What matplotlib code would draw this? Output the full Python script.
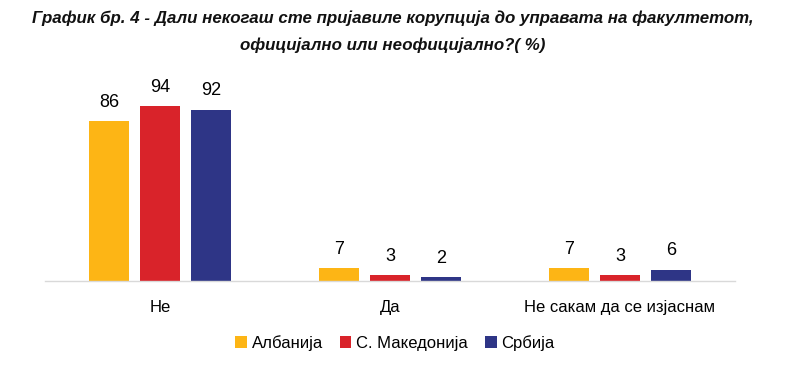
import matplotlib
matplotlib.use("Agg")
import matplotlib.pyplot as plt
import numpy as np
from matplotlib.patches import Patch

categories = ["Не", "Да", "Не сакам да се изјаснам"]
series_names = ["Албанија", "С. Македонија", "Србија"]
albania = [86, 7, 7]
macedonia = [94, 3, 3]
serbia = [92, 2, 6]
colors = ["#FDB515", "#D9232A", "#2E3586"]

plt.rcParams['font.family'] = ['Liberation Sans', 'DejaVu Sans']

W, H = 807, 367
fig = plt.figure(figsize=(W/100, H/100), dpi=100)
ax = fig.add_axes([45/W, 1-281/H, 690/W, 186/H])

x = np.arange(len(categories))
width = 0.174
offsets = [-0.222, 0, 0.222]
for vals, off, col, name in zip([albania, macedonia, serbia], offsets, colors, series_names):
    bars = ax.bar(x + off, vals, width, color=col, label=name)
    for b, v in zip(bars, vals):
        ax.annotate(str(v), (b.get_x() + b.get_width()/2, v), xytext=(0, 7.5),
                    textcoords="offset points", ha="center", va="bottom", fontsize=13)

ax.set_xlim(-0.5, 2.5)
ax.set_ylim(0, 100)
for s in ["top", "right", "left"]:
    ax.spines[s].set_visible(False)
ax.spines["bottom"].set_color("#D9D9D9")
ax.spines["bottom"].set_linewidth(1)
ax.set_yticks([])
ax.set_xticks(x)
ax.set_xticklabels(categories, fontsize=12)
ax.tick_params(axis="x", length=0, pad=14)

handles = [Patch(facecolor=c, label=n) for c, n in zip(colors, series_names)]
fig.legend(handles=handles, loc="center", bbox_to_anchor=(395/W, 1-343/H), ncol=3,
           frameon=False, fontsize=12, handlelength=0.7, handleheight=0.7,
           handletextpad=0.3, columnspacing=1.0)

fig.text(393/W, 1-18/H, "График бр. 4 - Дали некогаш сте пријавиле корупција до управата на факултетот,",
         ha="center", va="center", fontsize=12.2, fontweight="bold", fontstyle="italic", color="#111111")
fig.text(393/W, 1-45/H, "официјално или неофицијално?( %)",
         ha="center", va="center", fontsize=12.2, fontweight="bold", fontstyle="italic", color="#111111")

fig.savefig("out.png", dpi=100)
